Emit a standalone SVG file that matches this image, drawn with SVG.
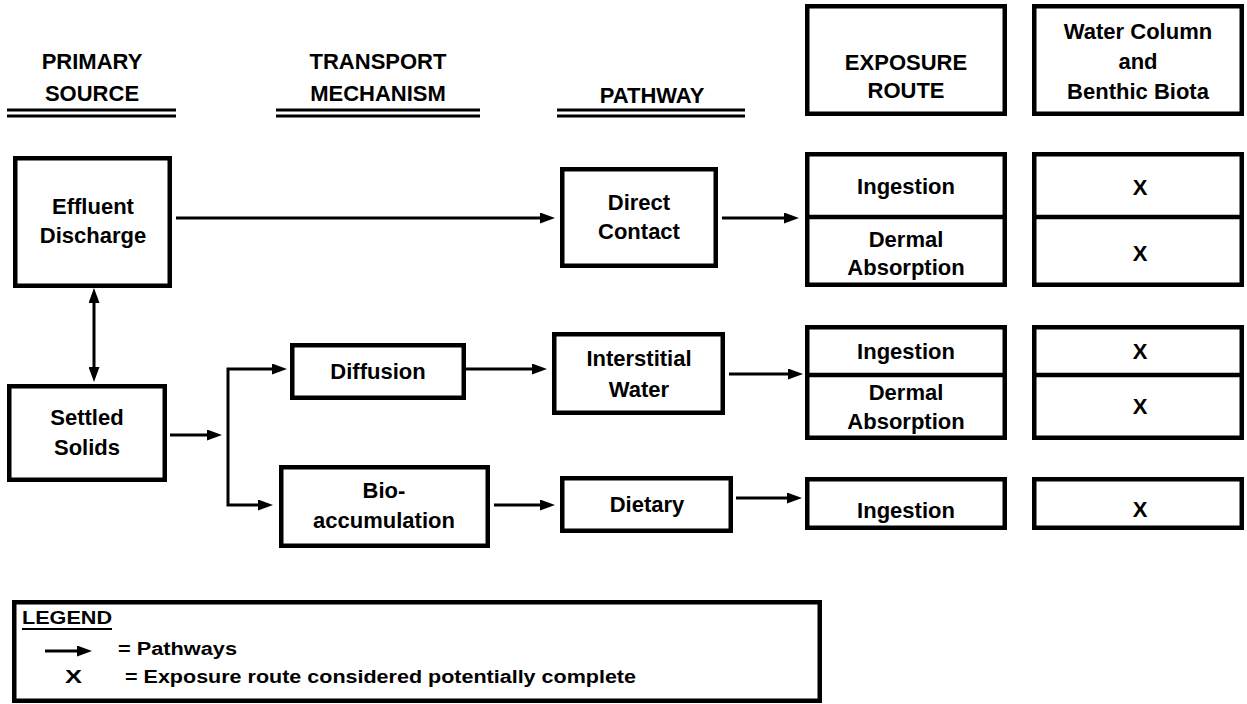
<svg xmlns="http://www.w3.org/2000/svg" width="1247" height="704" viewBox="0 0 1247 704">
<style>
  text { font-family: "Liberation Sans", Arial, sans-serif; font-weight: bold; font-size: 22px; fill: #000; }
  .c { text-anchor: middle; }
  .lg { font-size: 17.5px; }
  .box { fill: #fff; stroke: #000; stroke-width: 4.5; }
  .div { stroke: #000; stroke-width: 4.5; }
  .ul { stroke: #000; stroke-width: 3; }
  .con { fill: none; stroke: #000; stroke-width: 3; }
</style>
<defs>
  <marker id="ah" markerWidth="15" markerHeight="11" refX="5" refY="5.5" orient="auto-start-reverse" markerUnits="userSpaceOnUse">
    <path d="M0,0 L15,5.5 L0,11 z" fill="#000"/>
  </marker>
</defs>
<rect width="1247" height="704" fill="#fff"/>

<g id="headers">
  <g id="h-primary">
    <text class="c" x="92" y="69">PRIMARY</text>
    <text class="c" x="92" y="101">SOURCE</text>
    <line class="ul" x1="7" y1="110" x2="176" y2="110"/>
    <line class="ul" x1="7" y1="116" x2="176" y2="116"/>
  </g>
  <g id="h-transport">
    <text class="c" x="378" y="69">TRANSPORT</text>
    <text class="c" x="378" y="101">MECHANISM</text>
    <line class="ul" x1="276" y1="110" x2="480" y2="110"/>
    <line class="ul" x1="276" y1="116" x2="480" y2="116"/>
  </g>
  <g id="h-pathway">
    <text class="c" x="652" y="103">PATHWAY</text>
    <line class="ul" x1="557" y1="110" x2="745" y2="110"/>
    <line class="ul" x1="557" y1="116" x2="745" y2="116"/>
  </g>
  <g id="h-exposure">
    <rect class="box" x="807.25" y="6.25" width="197.5" height="107.5"/>
    <text class="c" x="906" y="70">EXPOSURE</text>
    <text class="c" x="906" y="98">ROUTE</text>
  </g>
  <g id="h-receptor">
    <rect class="box" x="1034.25" y="6.25" width="207.5" height="107.5"/>
    <text class="c" x="1138" y="39">Water Column</text>
    <text class="c" x="1138" y="69">and</text>
    <text class="c" x="1138" y="99">Benthic Biota</text>
  </g>
</g>

<g id="effluent">
  <rect class="box" x="15.25" y="158.25" width="154.5" height="127.5"/>
  <text class="c" x="93" y="214">Effluent</text>
  <text class="c" x="93" y="243">Discharge</text>
</g>
<g id="settled">
  <rect class="box" x="9.25" y="386.25" width="155.5" height="93.5"/>
  <text class="c" x="87" y="425">Settled</text>
  <text class="c" x="87" y="455">Solids</text>
</g>
<g id="diffusion">
  <rect class="box" x="292.25" y="345.25" width="171.5" height="52.5"/>
  <text class="c" x="378" y="379">Diffusion</text>
</g>
<g id="bioaccumulation">
  <rect class="box" x="281.25" y="467.25" width="206.5" height="78.5"/>
  <text class="c" x="384" y="498">Bio-</text>
  <text class="c" x="384" y="528">accumulation</text>
</g>
<g id="direct-contact">
  <rect class="box" x="562.25" y="169.25" width="153.5" height="96.5"/>
  <text class="c" x="639" y="210">Direct</text>
  <text class="c" x="639" y="239">Contact</text>
</g>
<g id="interstitial-water">
  <rect class="box" x="554.25" y="334.25" width="168.5" height="78.5"/>
  <text class="c" x="639" y="366">Interstitial</text>
  <text class="c" x="639" y="397">Water</text>
</g>
<g id="dietary">
  <rect class="box" x="562.25" y="478.25" width="168.5" height="52.5"/>
  <text class="c" x="647" y="512">Dietary</text>
</g>

<g id="route-1">
  <rect class="box" x="807.25" y="154.25" width="197.5" height="130.5"/>
  <line class="div" x1="805" y1="217" x2="1007" y2="217"/>
  <text class="c" x="906" y="194">Ingestion</text>
  <text class="c" x="906" y="247">Dermal</text>
  <text class="c" x="906" y="275">Absorption</text>
</g>
<g id="receptor-1">
  <rect class="box" x="1034.25" y="154.25" width="207.5" height="130.5"/>
  <line class="div" x1="1032" y1="217" x2="1244" y2="217"/>
  <text class="c" x="1140" y="195">X</text>
  <text class="c" x="1140" y="261">X</text>
</g>
<g id="route-2">
  <rect class="box" x="807.25" y="327.25" width="197.5" height="110.5"/>
  <line class="div" x1="805" y1="375" x2="1007" y2="375"/>
  <text class="c" x="906" y="359">Ingestion</text>
  <text class="c" x="906" y="400">Dermal</text>
  <text class="c" x="906" y="429">Absorption</text>
</g>
<g id="receptor-2">
  <rect class="box" x="1034.25" y="327.25" width="207.5" height="110.5"/>
  <line class="div" x1="1032" y1="375" x2="1244" y2="375"/>
  <text class="c" x="1140" y="359">X</text>
  <text class="c" x="1140" y="414">X</text>
</g>
<g id="route-3">
  <rect class="box" x="807.25" y="479.25" width="197.5" height="48.5"/>
  <text class="c" x="906" y="518">Ingestion</text>
</g>
<g id="receptor-3">
  <rect class="box" x="1034.25" y="479.25" width="207.5" height="48.5"/>
  <text class="c" x="1140" y="517">X</text>
</g>

<g id="connectors">
  <path class="con" d="M176,218 H545" marker-end="url(#ah)"/>
  <path class="con" d="M722,218 H789" marker-end="url(#ah)"/>
  <path class="con" d="M94,298 V372" marker-start="url(#ah)" marker-end="url(#ah)"/>
  <path class="con" d="M170,435 H212" marker-end="url(#ah)"/>
  <path class="con" d="M277,369 H228 V505 H263" marker-start="url(#ah)" marker-end="url(#ah)"/>
  <path class="con" d="M466,369 H537" marker-end="url(#ah)"/>
  <path class="con" d="M729,374 H793" marker-end="url(#ah)"/>
  <path class="con" d="M494,505 H545" marker-end="url(#ah)"/>
  <path class="con" d="M736,498 H792" marker-end="url(#ah)"/>
</g>

<g id="legend">
  <rect class="box" x="14.25" y="602.25" width="805.5" height="98.5"/>
  <text class="lg" x="22" y="624" textLength="90" lengthAdjust="spacingAndGlyphs">LEGEND</text>
  <line x1="22" y1="629" x2="112" y2="629" stroke="#000" stroke-width="2"/>
  <path class="con" d="M45,651 H82" marker-end="url(#ah)"/>
  <text class="lg" x="118" y="655" textLength="119" lengthAdjust="spacingAndGlyphs">= Pathways</text>
  <text x="65" y="683" style="font-size:18.5px" textLength="17" lengthAdjust="spacingAndGlyphs">X</text>
  <text class="lg" x="125" y="683" textLength="511" lengthAdjust="spacingAndGlyphs">= Exposure route considered potentially complete</text>
</g>
</svg>
